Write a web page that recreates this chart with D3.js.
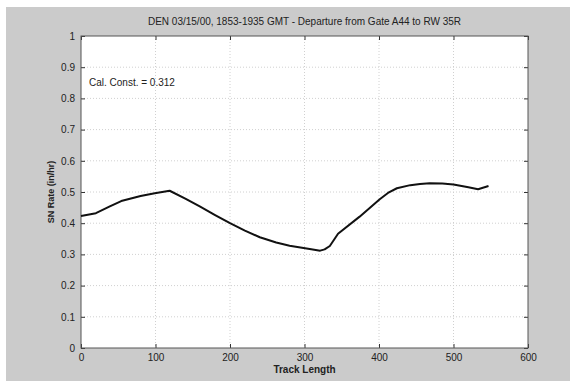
<!DOCTYPE html>
<html>
<head>
<meta charset="utf-8">
<script src="https://cdn.jsdelivr.net/npm/d3@7"></script>
<style>
  body { margin: 0; background: #fff; }
  svg { display: block; font-family: "Liberation Sans", Arial, sans-serif; }
</style>
</head>
<body>
<div id="chart"></div>
<script>
const trackLength = [0, 20, 38, 54, 80, 99, 119, 140, 160, 180, 200, 220, 240, 262, 280, 307, 321, 327, 334, 345, 374, 401, 412, 424, 442, 455, 468, 485, 500, 520, 533, 547];
const snRate = [0.423, 0.432, 0.453, 0.471, 0.487, 0.496, 0.504, 0.479, 0.453, 0.426, 0.400, 0.376, 0.355, 0.338, 0.328, 0.317, 0.312, 0.316, 0.327, 0.366, 0.421, 0.477, 0.497, 0.512, 0.522, 0.526, 0.528, 0.527, 0.524, 0.515, 0.509, 0.519];
const xTicks = [0, 100, 200, 300, 400, 500, 600];
const yTicks = [0, 0.1, 0.2, 0.3, 0.4, 0.5, 0.6, 0.7, 0.8, 0.9, 1];
const titleText = 'DEN 03/15/00, 1853-1935 GMT - Departure from Gate A44 to RW 35R';
const noteText = 'Cal. Const. = 0.312';

const width = 576, height = 387;
const margin = { top: 36, right: 48, bottom: 39, left: 81 };
const pw = width - margin.left - margin.right;
const ph = height - margin.top - margin.bottom;

const svg = d3.select('#chart').append('svg')
    .attr('width', width)
    .attr('height', height);

// figure background
svg.append('rect')
    .attr('x', 6).attr('y', 7)
    .attr('width', 564).attr('height', 374)
    .attr('fill', '#cbcbcb');

const x = d3.scaleLinear().domain([0, 600]).range([0, pw]);
const y = d3.scaleLinear().domain([0, 1]).range([ph, 0]);

const g = svg.append('g')
    .attr('transform', `translate(${margin.left},${margin.top})`);

g.append('rect')
    .attr('width', pw).attr('height', ph)
    .attr('fill', '#fff');

// grid
g.append('g').selectAll('line')
    .data(xTicks.slice(1, -1))
    .enter().append('line')
    .attr('x1', d => x(d)).attr('x2', d => x(d))
    .attr('y1', 0).attr('y2', ph)
    .attr('stroke', '#d0d0d0')
    .attr('stroke-dasharray', '1,2');

g.append('g').selectAll('line')
    .data(yTicks.slice(1, -1))
    .enter().append('line')
    .attr('x1', 0).attr('x2', pw)
    .attr('y1', d => y(d)).attr('y2', d => y(d))
    .attr('stroke', '#d0d0d0')
    .attr('stroke-dasharray', '1,2');

// axes with inward ticks
const fmt = d3.format('');
g.append('g')
    .attr('transform', `translate(0,${ph})`)
    .call(d3.axisBottom(x).tickValues(xTicks).tickSizeInner(-4).tickSizeOuter(0).tickPadding(6).tickFormat(fmt));
g.append('g')
    .call(d3.axisTop(x).tickValues(xTicks).tickSizeInner(-4).tickSizeOuter(0).tickFormat(''));
g.append('g')
    .call(d3.axisLeft(y).tickValues(yTicks).tickSizeInner(-4).tickSizeOuter(0).tickPadding(6).tickFormat(fmt));
g.append('g')
    .attr('transform', `translate(${pw},0)`)
    .call(d3.axisRight(y).tickValues(yTicks).tickSizeInner(-4).tickSizeOuter(0).tickFormat(''));

g.selectAll('.domain').remove();
g.selectAll('.tick line').attr('stroke', '#333');
g.selectAll('.tick text').attr('font-size', 10).attr('fill', '#222')
    .attr('font-family', '"Liberation Sans", Arial, sans-serif');

g.append('rect')
    .attr('width', pw).attr('height', ph)
    .attr('fill', 'none')
    .attr('stroke', '#555')
    .attr('stroke-width', 1);

// data line
const line = d3.line()
    .x((d, i) => x(trackLength[i]))
    .y(d => y(d));

g.append('path')
    .datum(snRate)
    .attr('d', line)
    .attr('fill', 'none')
    .attr('stroke', '#111')
    .attr('stroke-width', 2)
    .attr('stroke-linejoin', 'round');

// texts
svg.append('text')
    .attr('x', margin.left + pw / 2).attr('y', 25)
    .attr('text-anchor', 'middle')
    .attr('font-size', 10).attr('fill', '#222')
    .text(titleText);

g.append('text')
    .attr('x', 8).attr('y', y(0.8) - 12)
    .attr('font-size', 10).attr('fill', '#222')
    .text(noteText);

svg.append('text')
    .attr('x', margin.left + pw / 2).attr('y', 373)
    .attr('text-anchor', 'middle')
    .attr('font-size', 10).attr('font-weight', 'bold').attr('fill', '#222')
    .text('Track Length');

svg.append('text')
    .attr('transform', `translate(54,${margin.top + ph / 2}) rotate(-90)`)
    .attr('text-anchor', 'middle')
    .attr('font-size', 9).attr('font-weight', 'bold').attr('fill', '#222')
    .text('SN Rate (in/hr)');
</script>
</body>
</html>
